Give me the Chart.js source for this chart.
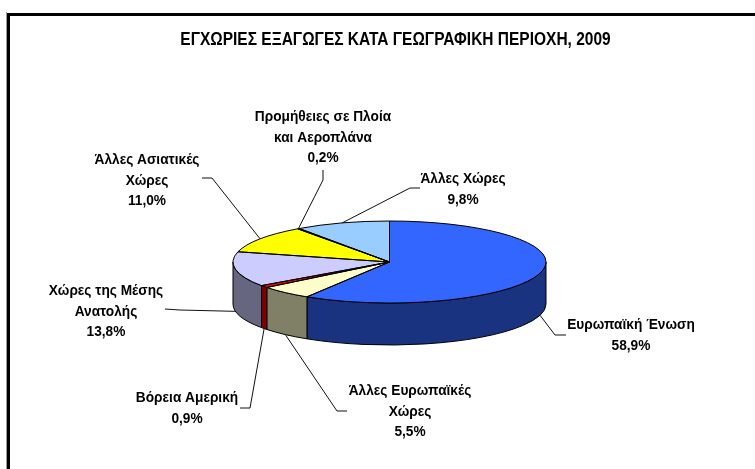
<!DOCTYPE html>
<html>
<head>
<meta charset="utf-8">
<title>Εγχώριες εξαγωγές</title>
<style>
  html, body { margin: 0; padding: 0; background: #fff; }
  canvas { display: block; }
</style>
<script src="https://cdn.jsdelivr.net/npm/chart.js@4/dist/chart.umd.min.js"></script>
</head>
<body>
<canvas id="pie-chart" width="755" height="469"></canvas>
<script>
const chartTitle = "ΕΓΧΩΡΙΕΣ ΕΞΑΓΩΓΕΣ ΚΑΤΑ ΓΕΩΓΡΑΦΙΚΗ ΠΕΡΙΟΧΗ, 2009";
const categories = [
  "Ευρωπαϊκή Ένωση",
  "Άλλες Ευρωπαϊκές\nΧώρες",
  "Βόρεια Αμερική",
  "Χώρες της Μέσης\nΑνατολής",
  "Άλλες Ασιατικές\nΧώρες",
  "Προμήθειες σε Πλοία\nκαι Αεροπλάνα",
  "Άλλες Χώρες",
];
const shares = [58.9, 5.5, 0.9, 13.8, 11.0, 0.2, 9.8];
const topColors = ["#3366FF", "#FFFFCC", "#FF0000", "#CCCCFF", "#FFFF00", "#003366", "#99CCFF"];
const sideColors = ["#1A3380", "#808066", "#800000", "#666680", "#808000", "#001A33", "#4D6680"];

// where each label sits: text centre, first line middle, then leader elbow and tail
const labelBoxes = [
  { x: 631, y: 325, elbow: [555, 335], tail: [566, 335] },
  { x: 410, y: 391, elbow: [337, 411], tail: [347, 411] },
  { x: 187, y: 398, elbow: [250, 408], tail: [240, 408] },
  { x: 106, y: 291, elbow: [180, 310], tail: [165, 309] },
  { x: 147, y: 160, elbow: [212, 178], tail: [202, 178] },
  { x: 323, y: 117, elbow: [323, 180], tail: [323, 170] },
  { x: 463, y: 179, elbow: [410, 188], tail: [420, 188] },
];

const tilt = 41 / 156.5;
const depth = 42;
const lineStep = 20.5;

// the reference text is tall and narrow, so squeeze a bigger font sideways
function narrowText(ctx, text, x, y, squeeze) {
  ctx.save();
  ctx.translate(x, y);
  ctx.scale(squeeze, 1);
  ctx.fillText(text, 0, 0);
  ctx.restore();
}

const pie3d = {
  id: "pie3d",
  beforeDraw(chart) {
    const ctx = chart.ctx;
    // frame, only top and left are in the picture
    ctx.save();
    ctx.fillStyle = "#fff";
    ctx.fillRect(0, 0, chart.width, chart.height);
    ctx.fillStyle = "#999";
    ctx.fillRect(6, 12, 1, chart.height - 12);
    ctx.fillStyle = "#000";
    ctx.fillRect(7, 13, chart.width - 7, 3);
    ctx.fillRect(7, 13, 3, chart.height - 13);
    ctx.restore();
  },
  beforeDatasetsDraw(chart) {
    const ctx = chart.ctx;
    const arcs = chart.getDatasetMeta(0).data;

    // side wall of the slices facing the viewer
    ctx.save();
    ctx.strokeStyle = "#000";
    ctx.lineWidth = 1;
    arcs.forEach((arc, i) => {
      const from = Math.max(arc.startAngle, 0);
      const to = Math.min(arc.endAngle, Math.PI);
      if (to <= from) return;
      const ry = arc.outerRadius * tilt;
      ctx.beginPath();
      ctx.ellipse(arc.x, arc.y, arc.outerRadius, ry, 0, from, to);
      ctx.ellipse(arc.x, arc.y + depth, arc.outerRadius, ry, 0, to, from, true);
      ctx.closePath();
      ctx.fillStyle = sideColors[i];
      ctx.fill();
      ctx.stroke();
    });
    ctx.restore();

    // flatten the library's round pie into the top face
    const first = arcs[0];
    ctx.save();
    ctx.translate(first.x, first.y);
    ctx.scale(1, tilt);
    ctx.translate(-first.x, -first.y);
  },
  afterDatasetsDraw(chart) {
    const ctx = chart.ctx;
    ctx.restore();
    const arcs = chart.getDatasetMeta(0).data;

    // outlines go here so the flattening does not thin them
    ctx.save();
    ctx.strokeStyle = "#000";
    ctx.lineWidth = 1;
    ctx.lineJoin = "round";
    arcs.forEach((arc) => {
      ctx.beginPath();
      ctx.moveTo(arc.x, arc.y);
      ctx.ellipse(arc.x, arc.y, arc.outerRadius, arc.outerRadius * tilt, 0, arc.startAngle, arc.endAngle);
      ctx.closePath();
      ctx.stroke();
    });

    // leader lines
    ctx.lineWidth = 1;
    ctx.strokeStyle = "#111";
    arcs.forEach((arc, i) => {
      const mid = (arc.startAngle + arc.endAngle) / 2;
      const px = arc.x + arc.outerRadius * Math.cos(mid);
      let py = arc.y + arc.outerRadius * tilt * Math.sin(mid);
      if (Math.sin(mid) > 0) py += depth;
      const box = labelBoxes[i];
      ctx.beginPath();
      ctx.moveTo(px, py);
      ctx.lineTo(box.elbow[0], box.elbow[1]);
      ctx.lineTo(box.tail[0], box.tail[1]);
      ctx.stroke();
    });

    // texts
    ctx.fillStyle = "#000";
    ctx.textAlign = "center";
    ctx.textBaseline = "middle";
    ctx.font = "bold 17.5px 'Liberation Sans', Arial, sans-serif";
    narrowText(ctx, chartTitle, 395.5, 40, 15.5 / 17.5);
    ctx.font = "bold 15px 'Liberation Sans', Arial, sans-serif";
    categories.forEach((name, i) => {
      const lines = name.split("\n");
      lines.push(shares[i].toFixed(1).replace(".", ",") + "%");
      lines.forEach((line, n) => {
        narrowText(ctx, line, labelBoxes[i].x, labelBoxes[i].y + n * lineStep, 13.7 / 15);
      });
    });
    ctx.restore();
  },
};

new Chart(document.getElementById("pie-chart").getContext("2d"), {
  type: "pie",
  data: {
    labels: categories,
    datasets: [
      {
        data: shares,
        backgroundColor: topColors,
        borderWidth: 0,
      },
    ],
  },
  options: {
    responsive: false,
    animation: false,
    layout: {
      padding: { left: 233, right: 209, top: 105.5, bottom: 50.5 },
    },
    plugins: {
      legend: { display: false },
      title: { display: false },
      tooltip: { enabled: false },
    },
  },
  plugins: [pie3d],
});
</script>
</body>
</html>
